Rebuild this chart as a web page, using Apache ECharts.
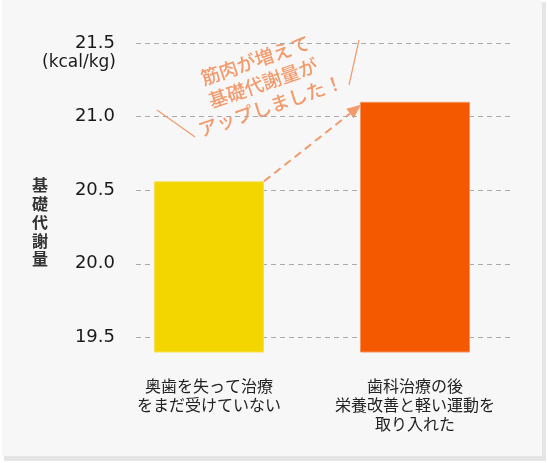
<!DOCTYPE html>
<html>
<head>
<meta charset="utf-8">
<script src="https://cdn.jsdelivr.net/npm/echarts@6/dist/echarts.min.js"></script>
<style>
  html, body { margin: 0; padding: 0; background: #fff; }
  #chart { width: 548px; height: 463px; }
</style>
</head>
<body>
<div id="chart"></div>
<script>
// data
var categories = ['奥歯を失って治療\nをまだ受けていない', '歯科治療の後\n栄養改善と軽い運動を\n取り入れた'];
var values = [20.56, 21.1];
var barColors = ['#f3d500', '#f45900'];
var barBorders = ['#f6df55', '#f6925a'];
var yMin = 19.5, yMax = 21.5, yStep = 0.5;
var barBase = 19.4;
var note = '筋肉が増えて\n基礎代謝量が\nアップしました！';

var salmon = '#f29a6c';
var barWidth = 110;

var myChart = echarts.init(document.getElementById('chart'));

var option = {
  animation: false,
  grid: [
    { left: 106, right: 30, top: 43, bottom: 111 },   // bars
    { left: 136, right: 35, top: 43, bottom: 125.6 }  // gridlines + labels
  ],
  xAxis: [
    {
      type: 'category', gridIndex: 0, data: categories,
      axisLine: { show: false }, axisTick: { show: false },
      axisLabel: {
        margin: 24, color: '#222', fontSize: 16, lineHeight: 19,
        fontFamily: 'Noto Sans CJK JP', interval: 0
      }
    },
    { type: 'category', gridIndex: 1, data: categories, show: false }
  ],
  yAxis: [
    { type: 'value', gridIndex: 0, min: barBase, max: yMax, show: false },
    {
      type: 'value', gridIndex: 1, min: yMin, max: yMax, interval: yStep,
      axisLine: { show: false }, axisTick: { show: false },
      axisLabel: {
        margin: 21, color: '#1a1a1a', fontSize: 18, fontFamily: 'DejaVu Sans',
        formatter: function (v) { return v.toFixed(1); }
      },
      splitLine: { lineStyle: { color: '#aaa', type: [5, 4], width: 1 } }
    }
  ],
  series: [
    {
      type: 'bar', xAxisIndex: 0, yAxisIndex: 0, barWidth: barWidth,
      data: values.map(function (v, i) {
        return { value: v, itemStyle: { color: barColors[i], borderColor: barBorders[i], borderWidth: 1 } };
      })
    }
  ],
  graphic: { elements: [] }
};

myChart.setOption(option);

// annotations placed from the data positions
var p0 = myChart.convertToPixel({ xAxisIndex: 0, yAxisIndex: 0 }, [0, values[0]]);
var p1 = myChart.convertToPixel({ xAxisIndex: 0, yAxisIndex: 0 }, [1, values[1]]);
var sx = p0[0] + barWidth / 2, sy = p0[1];
var ex = p1[0] - barWidth / 2 + 1, ey = p1[1] + 3;
var dx = ex - sx, dy = ey - sy, len = Math.sqrt(dx * dx + dy * dy);
var ux = dx / len, uy = dy / len;
var headLen = 14, headW = 6;
var bx = ex - ux * headLen, by = ey - uy * headLen;

myChart.setOption({
  graphic: {
    elements: [
      { type: 'rect', z: -10, silent: true, shape: { x: 4, y: 2, width: 542, height: 459 }, style: { fill: '#e5e5e5' } },
      { type: 'rect', z: -9, silent: true, shape: { x: 2, y: 0, width: 540, height: 456 }, style: { fill: '#f7f7f7' } },
      {
        type: 'text', x: 116, y: 63,
        style: { text: '(kcal/kg)', fill: '#1a1a1a', font: '17px DejaVu Sans', align: 'right', verticalAlign: 'middle' }
      },
      {
        type: 'text', left: 32, top: 176,
        style: { text: '基\n礎\n代\n謝\n量', fill: '#333', font: 'bold 16px Noto Sans CJK JP', lineHeight: 18.5 }
      },
      {
        type: 'text', x: 263, y: 83, rotation: 0.33,
        style: {
          text: note, fill: salmon, font: '500 19px Noto Sans CJK JP',
          lineHeight: 24, align: 'center', verticalAlign: 'middle'
        }
      },
      { type: 'line', shape: { x1: 157, y1: 110, x2: 195, y2: 137 }, style: { stroke: salmon, lineWidth: 1.2 } },
      { type: 'line', shape: { x1: 359, y1: 40, x2: 349, y2: 85 }, style: { stroke: salmon, lineWidth: 1.2 } },
      {
        type: 'line', shape: { x1: sx, y1: sy, x2: bx, y2: by },
        style: { stroke: salmon, lineWidth: 2, lineDash: [8, 5] }
      },
      {
        type: 'polygon',
        shape: { points: [[ex, ey], [bx - uy * headW, by + ux * headW], [bx + uy * headW, by - ux * headW]] },
        style: { fill: salmon }
      }
    ]
  }
});
</script>
</body>
</html>
